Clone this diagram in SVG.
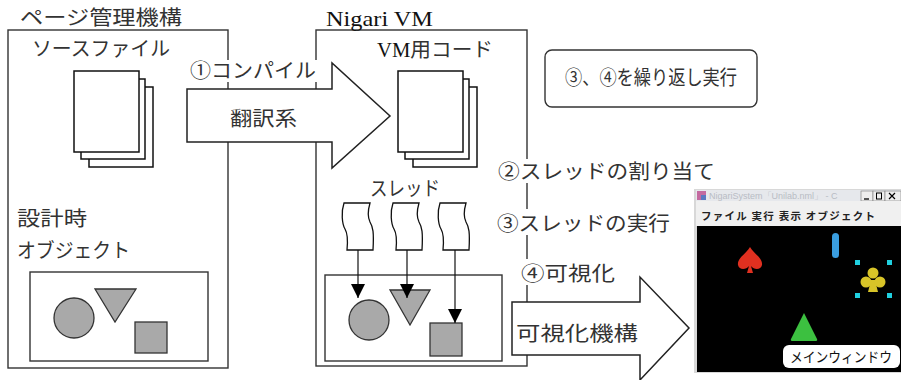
<svg xmlns="http://www.w3.org/2000/svg" width="901" height="380" viewBox="0 0 901 380">
  <style>
    .box { fill: #fff; stroke: #333; stroke-width: 1.4; }
    .doc { fill: #fff; stroke: #111; stroke-width: 1.5; }
    .big { fill: #fff; stroke: #222; stroke-width: 1.5; stroke-linejoin: miter; }
    .shape { fill: #a9a9a9; stroke: #333; stroke-width: 1.3; }
    .jp { font-family: "Noto Sans CJK JP", "Noto Sans", sans-serif; fill: #333; font-size: 20px; }
    .serif { font-family: "Liberation Serif", "Noto Sans CJK JP", serif; fill: #111; font-size: 21px; }
    .bg { fill: #fff; }
    .thread { fill: #fff; stroke: #111; stroke-width: 1.3; }
    .link { stroke: #111; stroke-width: 1.2; fill: none; }
  </style>
  <defs>
    <marker id="head" viewBox="0 0 14 14" refX="14" refY="7" markerWidth="14" markerHeight="14" markerUnits="userSpaceOnUse" orient="auto">
      <path d="M0,0 L14,7 L0,14 Z" fill="#000"/>
    </marker>
    <path id="wave" d="M2,1 L28,1 C26,8 25,14 28,20 C31,25 32,30 31,48 L5,48 C6,38 6,32 3,27 C0,22 -1,10 2,1 Z"/>
  </defs>

  <rect width="901" height="380" fill="#fff"/>

  <!-- page management mechanism -->
  <g id="page-manager">
    <rect class="box" x="8" y="30" width="220" height="338"/>
    <text class="jp" x="20" y="25" textLength="162" lengthAdjust="spacingAndGlyphs">ページ管理機構</text>
    <text class="jp" x="32" y="56" textLength="138" lengthAdjust="spacingAndGlyphs">ソースファイル</text>
    <rect class="doc" x="89" y="87" width="64" height="80"/>
    <rect class="doc" x="81" y="79" width="64" height="80"/>
    <rect class="doc" x="74" y="71" width="65" height="81"/>
    <text class="jp" x="17" y="226" textLength="70" lengthAdjust="spacingAndGlyphs">設計時</text>
    <text class="jp" x="17" y="258" textLength="113" lengthAdjust="spacingAndGlyphs">オブジェクト</text>
  </g>
  <g id="design-objects">
    <rect class="box" x="30" y="272" width="178" height="89"/>
    <circle class="shape" cx="74" cy="318" r="20"/>
    <path class="shape" d="M95,289 L136,289 L115,322 Z"/>
    <rect class="shape" x="135" y="322" width="32" height="31"/>
  </g>

  <!-- Nigari VM -->
  <g id="nigari-vm">
    <rect class="box" x="316" y="30" width="211" height="336"/>
    <text class="serif" x="326" y="26" textLength="107" lengthAdjust="spacingAndGlyphs">Nigari VM</text>
    <text x="377" y="57" font-size="20" textLength="116" lengthAdjust="spacingAndGlyphs"><tspan font-family="Liberation Serif, serif" fill="#111">VM</tspan><tspan class="jp">用コード</tspan></text>
    <rect class="doc" x="413" y="87" width="64" height="80"/>
    <rect class="doc" x="405" y="79" width="64" height="80"/>
    <rect class="doc" x="398" y="71" width="65" height="81"/>
    <text class="jp" x="370" y="196" textLength="70" lengthAdjust="spacingAndGlyphs">スレッド</text>
  </g>
  <g id="threads">
    <use href="#wave" class="thread" x="342" y="202"/>
    <use href="#wave" class="thread" x="391" y="202"/>
    <use href="#wave" class="thread" x="438" y="202"/>
  </g>
  <g id="runtime-objects">
    <rect class="box" x="325" y="275" width="177" height="86"/>
    <circle class="shape" cx="369" cy="320" r="20"/>
    <path class="shape" d="M390,290 L430,290 L410,325 Z"/>
    <rect class="shape" x="430" y="323" width="32" height="33"/>
  </g>

  <!-- connectors -->
  <g id="connectors">
    <line class="link" x1="358" y1="250" x2="358" y2="298" marker-end="url(#head)"/>
    <line class="link" x1="407" y1="250" x2="407" y2="298" marker-end="url(#head)"/>
    <line class="link" x1="455" y1="250" x2="455" y2="323" marker-end="url(#head)"/>
  </g>

  <!-- translator arrow -->
  <g id="translator">
    <path class="big" d="M187,89 L332,89 L332,63 L390,116 L332,168 L332,142 L187,142 Z"/>
    <text class="jp" x="230" y="126" textLength="67" lengthAdjust="spacingAndGlyphs">翻訳系</text>
  </g>
  <g id="compile-label">
    <rect class="bg" x="189" y="60" width="128" height="22"/>
    <text class="jp" x="190" y="78" textLength="126" lengthAdjust="spacingAndGlyphs">①コンパイル</text>
  </g>

  <!-- visualizer arrow -->
  <g id="visualizer">
    <path class="big" d="M512,302 L640,302 L640,277 L689,328 L640,380 L640,355 L512,355 Z"/>
    <text class="jp" x="516" y="341" textLength="122" lengthAdjust="spacingAndGlyphs">可視化機構</text>
  </g>

  <!-- step labels -->
  <g id="steps">
    <rect class="bg" x="496" y="159" width="222" height="24"/>
    <text class="jp" x="498" y="179" textLength="217" lengthAdjust="spacingAndGlyphs">②スレッドの割り当て</text>
    <rect class="bg" x="495" y="209" width="177" height="26"/>
    <text class="jp" x="497" y="231" textLength="173" lengthAdjust="spacingAndGlyphs">③スレッドの実行</text>
    <rect class="bg" x="519" y="259" width="98" height="26"/>
    <text class="jp" x="521" y="281" textLength="94" lengthAdjust="spacingAndGlyphs">④可視化</text>
  </g>

  <g id="repeat-note">
    <rect class="box" x="545" y="50" width="212" height="57" rx="7"/>
    <text class="jp" x="565" y="85" textLength="172" lengthAdjust="spacingAndGlyphs">③、④を繰り返し実行</text>
  </g>

  <!-- main window screenshot -->
  <g id="main-window">
    <rect x="694" y="189" width="207" height="184" fill="#d8d8d8"/>
    <rect x="696" y="190" width="205" height="11" fill="#e6e8ec"/>
    <rect x="697" y="191" width="9" height="9" fill="#c46aa0"/>
    <rect x="701" y="195" width="5" height="5" fill="#5a78c0"/>
    <text x="709" y="199" font-family="Liberation Sans, sans-serif" font-size="9" fill="#b8bcc4">NigariSystem「Unilab.nml」 - C</text>
    <rect x="861" y="191" width="12" height="10" fill="#eee" stroke="#777" stroke-width="0.6"/>
    <rect x="873" y="191" width="12" height="10" fill="#eee" stroke="#777" stroke-width="0.6"/>
    <rect x="885" y="191" width="16" height="10" fill="#eee" stroke="#777" stroke-width="0.6"/>
    <path d="M864,199 H869" stroke="#000" stroke-width="1.3"/>
    <rect x="876.5" y="193" width="5" height="6" fill="none" stroke="#000" stroke-width="1"/>
    <path d="M889,193 L895,199 M895,193 L889,199" stroke="#000" stroke-width="1.2"/>
    <rect x="696" y="201" width="205" height="25" fill="#f0f0f0"/>
    <text x="701" y="220" font-family="Noto Sans CJK JP, sans-serif" font-size="10.5" font-weight="bold" fill="#222" textLength="174" lengthAdjust="spacing">ファイル   実行   表示   オブジェクト</text>
    <rect x="697" y="226" width="204" height="146" fill="#000"/>
    <!-- red spade -->
    <path d="M750,247 C746,254 737,258 738,265 C739,270 746,270 749,266 L747,273 H753 L751,266 C754,270 761,270 762,265 C763,258 754,254 750,247 Z" fill="#e03020"/>
    <!-- blue bar -->
    <rect x="832" y="233" width="7" height="25" rx="3.5" fill="#3a9ee0"/>
    <!-- yellow club with selection handles -->
    <g fill="#d8c428">
      <circle cx="873" cy="273" r="5.5"/>
      <circle cx="866" cy="282" r="5.5"/>
      <circle cx="880" cy="282" r="5.5"/>
      <path d="M871,280 L875,280 L878,292 L868,292 Z"/>
    </g>
    <g fill="#20d0e0">
      <rect x="855" y="260" width="5" height="5"/>
      <rect x="887" y="260" width="5" height="5"/>
      <rect x="855" y="293" width="5" height="5"/>
      <rect x="887" y="293" width="5" height="5"/>
    </g>
    <!-- green triangle -->
    <path d="M804,313 L817,339 Q818,341 815,341 L793,341 Q790,341 791,339 Z" fill="#3cc040"/>
    <rect x="783" y="345" width="117" height="23" rx="6" fill="#fff"/>
    <text x="790" y="362" font-family="Noto Sans CJK JP, sans-serif" font-size="14" fill="#111" textLength="102" lengthAdjust="spacingAndGlyphs">メインウィンドウ</text>
  </g>
</svg>
